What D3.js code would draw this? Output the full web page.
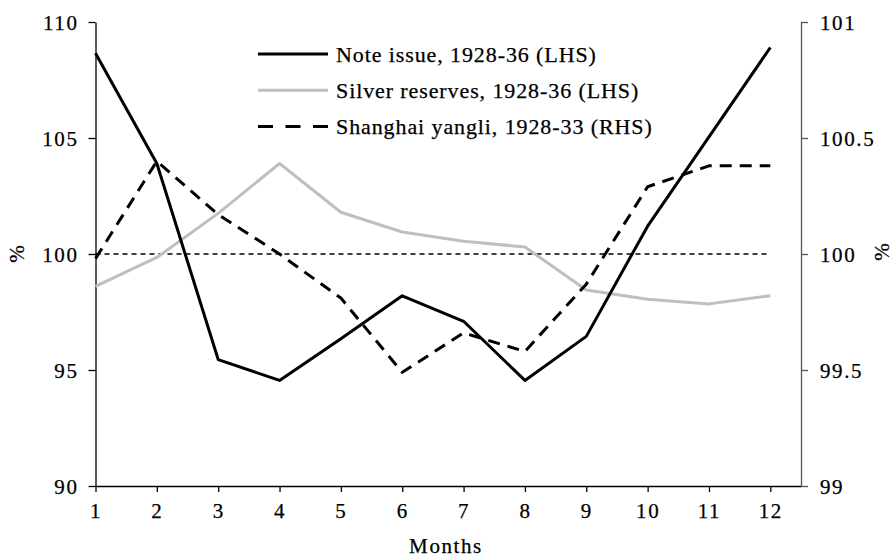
<!DOCTYPE html>
<html><head><meta charset="utf-8">
<script src="https://cdn.jsdelivr.net/npm/d3@7"></script>
<style>
html,body{margin:0;padding:0;background:#fff;}
</style></head>
<body><svg id="c" width="896" height="557"></svg>
<script>
const months = [1,2,3,4,5,6,7,8,9,10,11,12];
const noteIssue = [108.65,103.9,95.45,94.55,96.35,98.2,97.1,94.55,96.45,101.2,105.05,108.9];
const silverReserves = [98.6,99.85,101.75,103.9,101.8,100.95,100.55,100.3,98.45,98.05,97.85,98.2];
const shanghaiYangli = [99.98,100.4,100.17,100.0,99.81,99.49,99.66,99.58,99.87,100.29,100.38,100.38];
const leftTicks = [90,95,100,105,110];
const rightTicks = [99,99.5,100,100.5,101];
const referenceLevel = 100;
const seriesNames = ["Note issue, 1928-36 (LHS)","Silver reserves, 1928-36 (LHS)","Shanghai yangli, 1928-33 (RHS)"];

const FONT = "'Liberation Serif', 'Times New Roman', serif";
const svg = d3.select("#c");
const x = d3.scaleLinear().domain([1,12.5]).range([95.5,801]);
const yL = d3.scaleLinear().domain([90,110]).range([486,22]);
const yR = d3.scaleLinear().domain([99,101]).range([486,22]);

const fs = "21px", ls = "1.6px";
function txt(sel, size, spacing){
  return sel.style("font-family",FONT).style("font-size",size).style("letter-spacing",spacing)
    .attr("fill","#000").attr("stroke","#000").attr("stroke-width",0.25);
}

const gx = svg.append("g").attr("transform","translate(0,486)")
  .call(d3.axisBottom(x).tickValues(months).tickSize(6).tickSizeOuter(0).tickPadding(11).tickFormat(d3.format("d")));
const gl = svg.append("g").attr("transform","translate(95.5,0)")
  .call(d3.axisLeft(yL).tickValues(leftTicks).tickSize(7).tickSizeOuter(0).tickPadding(10).tickFormat(d3.format("d")));
const gr = svg.append("g").attr("transform","translate(801,0)")
  .call(d3.axisRight(yR).tickValues(rightTicks).tickSize(7).tickSizeOuter(0).tickPadding(12).tickFormat(d=>String(d)));
[gx,gl,gr].forEach(g=>{
  g.attr("font-family",null).attr("font-size",null);
  g.selectAll("path,line").attr("stroke","#000").attr("stroke-width",1.3);
  txt(g.selectAll("text"), fs, ls);
});
gr.selectAll("path,line").attr("stroke","#555");
gl.selectAll("text").attr("dy","0.34em");
gr.selectAll("text").attr("dy","0.34em");

svg.append("line")
  .attr("x1",x(months[0])).attr("x2",x(months[months.length-1]))
  .attr("y1",yL(referenceLevel)).attr("y2",yL(referenceLevel))
  .attr("stroke","#000").attr("stroke-width",1.6).attr("stroke-dasharray","5,4");

const lineL = vals => d3.line().x((d,i)=>x(months[i])).y(d=>yL(d))(vals);
const lineR = vals => d3.line().x((d,i)=>x(months[i])).y(d=>yR(d))(vals);

const styles = [
  {stroke:"#000",dash:null},
  {stroke:"#bfbfbf",dash:null},
  {stroke:"#000",dash:"12,8"}
];

svg.append("path").attr("d",lineL(silverReserves)).attr("fill","none")
  .attr("stroke",styles[1].stroke).attr("stroke-width",3).attr("stroke-linejoin","round");
svg.append("path").attr("d",lineR(shanghaiYangli)).attr("fill","none")
  .attr("stroke",styles[2].stroke).attr("stroke-width",3).attr("stroke-dasharray",styles[2].dash).attr("stroke-linejoin","round");
svg.append("path").attr("d",lineL(noteIssue)).attr("fill","none")
  .attr("stroke",styles[0].stroke).attr("stroke-width",3).attr("stroke-linejoin","round");

const lg = svg.append("g");
seriesNames.forEach((name,i)=>{
  const yy = 54 + i*36.3;
  lg.append("line").attr("x1",258).attr("x2",328).attr("y1",yy).attr("y2",yy)
    .attr("stroke",styles[i].stroke).attr("stroke-width",3)
    .attr("stroke-dasharray",styles[i].dash ? "15,12.5" : null);
  txt(lg.append("text").attr("x",336).attr("y",yy+7.5), "22px", "0.9px").text(name);
});

txt(svg.append("text").attr("x",446).attr("y",553).attr("text-anchor","middle"), fs, ls).text("Months");
txt(svg.append("text").attr("transform","translate(24,254) rotate(-90)").attr("text-anchor","middle"), fs, "0px").text("%");
txt(svg.append("text").attr("transform","translate(889,252) rotate(-90)").attr("text-anchor","middle"), fs, "0px").text("%");
</script></body></html>
